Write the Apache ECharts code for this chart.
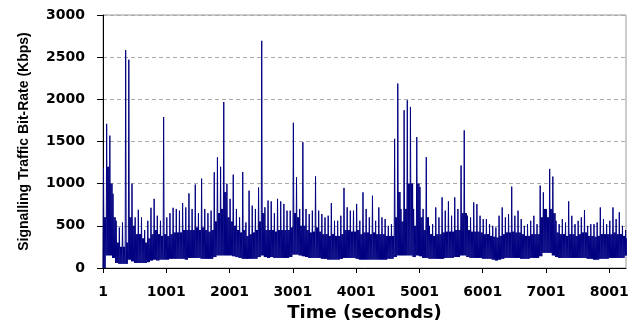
<!DOCTYPE html>
<html>
<head>
<meta charset="utf-8">
<script src="https://cdn.jsdelivr.net/npm/echarts@6/dist/echarts.min.js"></script>
<style>
html,body{margin:0;padding:0;background:#fff;}
#chart{width:641px;height:320px;}
</style>
</head>
<body>
<div id="chart"></div>
<script>
// Signalling traffic bit-rate (Kbps) in 50-second bins.
// For every bin: highest spike, top of the dense body, bottom of the band.
const binStart = 1;      // first second
const binWidth = 50;     // seconds per bin
const lastSecond = 8265;
const peaks = [
 1180,1710,1570,880,560,480,540,2583,2470,1000,
 600,690,600,450,560,714,820,620,560,1790,
 600,650,714,700,680,770,718,885,700,990,
 650,1060,700,650,680,1135,1313,1200,1968,1000,
 820,1107,700,600,1139,540,917,740,700,956,
 2694,720,800,790,650,820,790,760,680,680,
 1722,1075,700,1492,700,640,680,1087,680,640,
 600,620,770,560,560,620,950,720,680,680,
 760,560,897,700,600,857,560,718,600,580,
 500,520,1532,2187,700,1870,1989,1910,700,1552,
 960,700,1314,500,520,718,600,838,680,790,
 620,838,700,1215,1632,620,600,778,758,620,
 580,580,520,500,480,620,718,600,640,965,
 620,680,580,500,520,560,619,520,977,897,
 700,1175,1084,560,520,580,540,790,619,520,
 560,600,687,500,520,520,540,718,580,520,
 560,718,580,660,500,450
];
const cores = [
 600,1200,1000,600,300,250,250,300,600,500,
 400,400,350,300,350,400,450,400,380,400,
 380,400,420,420,420,450,450,450,450,480,
 450,480,450,430,450,550,650,700,900,600,
 550,500,450,420,450,380,400,420,450,550,
 650,450,450,450,430,450,450,450,450,480,
 650,600,500,500,450,420,430,480,430,400,
 400,380,400,380,380,400,450,450,430,430,
 450,400,420,420,400,420,400,400,400,380,
 380,380,600,900,550,700,1000,1000,500,1000,
 600,450,600,400,380,400,400,420,430,430,
 430,450,450,650,650,450,430,430,430,420,
 400,400,380,370,360,380,400,420,420,430,
 420,420,400,380,380,400,400,400,600,700,
 600,700,650,420,400,400,380,400,400,380,
 400,420,420,380,380,370,380,400,400,400,
 400,420,400,400,380,350
];
const bases = [
 0,150,150,120,60,50,50,50,100,80,
 60,60,60,60,70,90,100,90,100,100,
 100,110,110,110,110,110,100,120,120,120,
 120,110,110,110,110,130,150,150,150,150,
 150,140,130,120,110,110,110,110,110,130,
 150,130,120,130,120,120,120,120,120,130,
 160,160,150,140,130,120,120,120,120,110,
 110,100,100,100,100,110,120,120,120,120,
 110,100,100,100,100,100,100,100,100,100,
 110,110,130,150,150,150,150,150,130,150,
 140,120,120,110,110,110,110,110,120,120,
 120,130,130,150,150,130,120,120,120,120,
 110,110,110,100,90,100,110,120,120,120,
 120,120,110,110,110,120,120,120,140,180,
 180,180,150,130,120,120,120,120,120,120,
 120,120,120,110,110,100,100,110,110,110,
 120,120,120,120,120,150
];
const xTickLabels = [1,1001,2001,3001,4001,5001,6001,7001,8001];
const yTicks = [0,500,1000,1500,2000,2500,3000];

// Build the series: inside each bin the trace drops to the band bottom,
// rises to the spike, then swings between the band bottom and the body top.
const points = [];
for (let k = 0; k < peaks.length; k++) {
  const t0 = binStart + k * binWidth;
  const seq = [bases[k], peaks[k], bases[k], cores[k], bases[k], cores[k]];
  for (let j = 0; j < seq.length; j++) {
    points.push([Math.min(t0 + Math.round(j * binWidth / seq.length), lastSecond), seq[j]]);
  }
}

const chart = echarts.init(document.getElementById('chart'), null, {renderer: 'canvas'});
const tickFont = {fontFamily: 'DejaVu Sans', fontWeight: 'bold', fontSize: 14, color: '#000'};
const plain = v => String(v);
chart.setOption({
  animation: false,
  backgroundColor: '#fff',
  grid: {left: 103, right: 15, top: 15, bottom: 52, outerBoundsMode: 'none', containLabel: false,
         show: true, borderColor: '#999', borderWidth: 1, backgroundColor: 'transparent'},
  xAxis: {
    type: 'value',
    min: binStart,
    max: lastSecond,
    name: 'Time (seconds)',
    nameLocation: 'middle',
    nameGap: 32,
    nameTextStyle: {fontFamily: 'DejaVu Sans', fontWeight: 'bold', fontSize: 18, color: '#000'},
    axisLine: {show: true, onZero: false, lineStyle: {color: '#000', width: 1}},
    axisTick: {show: true, length: 5, lineStyle: {color: '#000'}, customValues: xTickLabels},
    axisLabel: Object.assign({margin: 17, customValues: xTickLabels, formatter: plain}, tickFont),
    splitLine: {show: false}
  },
  yAxis: {
    type: 'value',
    min: yTicks[0],
    max: yTicks[yTicks.length - 1],
    interval: 500,
    name: 'Signalling Traffic Bit-Rate (Kbps)',
    nameLocation: 'middle',
    nameRotate: 90,
    nameGap: 72,
    nameTextStyle: {fontFamily: "'Liberation Sans', Arial", fontWeight: 'bold', fontSize: 14, color: '#000'},
    axisLine: {show: true, lineStyle: {color: '#000', width: 1}},
    axisTick: {show: true, length: 6, lineStyle: {color: '#000'}},
    axisLabel: Object.assign({margin: 18, formatter: plain}, tickFont),
    splitLine: {show: true, lineStyle: {color: '#aaa', type: [4, 3], width: 1}}
  },
  series: [{
    type: 'line',
    data: points,
    showSymbol: false,
    symbol: 'none',
    sampling: null,
    lineStyle: {color: '#000080', width: 1},
    itemStyle: {color: '#000080'},
    z: 1
  }]
});
</script>
</body>
</html>
